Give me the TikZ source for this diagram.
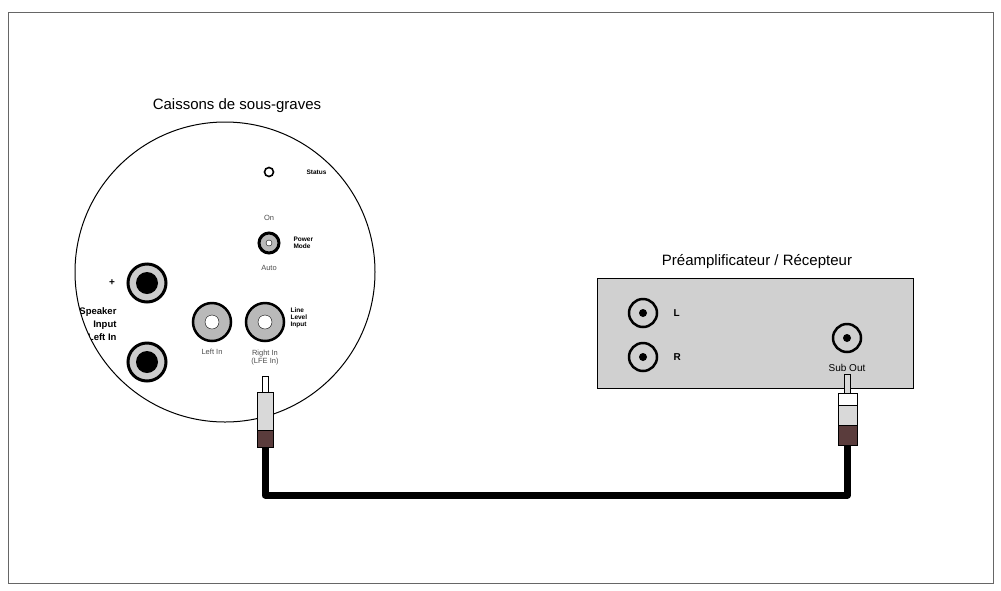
\documentclass[tikz,border=0pt]{standalone}
\usepackage{fontspec}
\setmainfont{Liberation Sans}
\usetikzlibrary{positioning}
\definecolor{panelgray}{RGB}{208,208,208}
\definecolor{jackgray}{RGB}{185,185,185}
\definecolor{bandred}{RGB}{90,60,60}
\begin{document}
\begin{tikzpicture}[x=1pt, y=-1pt,
    title/.style={font=\fontsize{15}{17}\selectfont},
    tiny/.style={font=\fontsize{6.5}{7}\selectfont\bfseries, align=left},
    small/.style={font=\fontsize{7.5}{8}\selectfont, text=black!70, align=center},
    rca/.style={circle, draw=black, line width=2.5pt, fill=jackgray, minimum size=38pt, inner sep=0pt},
    rcaout/.style={circle, draw=black, line width=2.5pt, fill=panelgray, minimum size=28pt, inner sep=0pt},
    speaker/.style={circle, draw=black, line width=3pt, fill=black!20, minimum size=38pt, inner sep=0pt},
    cable/.style={line width=7pt, black, line join=round}]
  \useasboundingbox (0,0) rectangle (1001,590);
  \draw[black!60, line width=1pt] (8,12) rectangle (993,583);
  % subwoofer panel
  \node[title] (subtitle) at (237,106) {Caissons de sous-graves};
  \draw[line width=1pt] (225,272) circle (150);
  \begin{scope}
    \clip (225,272) circle (150);
    \node[font=\fontsize{9.5}{13}\selectfont\bfseries, align=right, anchor=east] (spk) at (120,324) {Speaker\\Input\\Left In};
  \end{scope}
  \node[circle, draw, line width=1.6pt, minimum size=9pt, inner sep=0pt] (status) at (269,172) {};
  \node[tiny, anchor=west] (statuslbl) at (303,172) {Status};
  \node[small] (on) at (269,218) {On};
  \node[circle, draw, line width=3pt, fill=jackgray, minimum size=20pt, inner sep=0pt] (knob) at (269,243) {};
  \node[circle, draw, fill=white, minimum size=6pt, inner sep=0pt] at (knob) {};
  \node[tiny, anchor=west] (modelbl) at (290,243) {Power\\Mode};
  \node[small] (auto) at (269,268) {Auto};
  \node[font=\bfseries] (plus) at (112,283) {+};
  \node[speaker] (spkp) at (147,283) {};
  \node[circle, fill=black, minimum size=22pt, inner sep=0pt] at (spkp) {};
  \node[speaker] (spkm) at (147,362) {};
  \node[circle, fill=black, minimum size=22pt, inner sep=0pt] at (spkm) {};
  \node[rca] (leftin) at (212,322) {};
  \node[circle, draw, fill=white, minimum size=14pt, inner sep=0pt] at (leftin) {};
  \node[rca] (rightin) at (265,322) {};
  \node[circle, draw, fill=white, minimum size=14pt, inner sep=0pt] at (rightin) {};
  \node[tiny, anchor=west] (linelbl) at (287,318) {Line\\Level\\Input};
  \node[small] (leftlbl) at (212,352) {Left In};
  \node[small] (rightlbl) at (265,358) {Right In\\(LFE In)};
  % receiver
  \node[title] (rectitle) at (757,262) {Préamplificateur / Récepteur};
  \draw[fill=panelgray, line width=1pt] (597,278) rectangle (913,388);
  \node[rcaout] (ljack) at (643,313) {};
  \node[circle, fill=black, minimum size=8pt, inner sep=0pt] at (ljack) {};
  \node[rcaout] (rjack) at (643,357) {};
  \node[circle, fill=black, minimum size=8pt, inner sep=0pt] at (rjack) {};
  \node[font=\fontsize{10}{12}\selectfont\bfseries, anchor=west] (llbl) at (670,313) {L};
  \node[font=\fontsize{10}{12}\selectfont\bfseries, anchor=west] (rlbl) at (670,357) {R};
  \node[rcaout] (subout) at (847,338) {};
  \node[circle, fill=black, minimum size=8pt, inner sep=0pt] at (subout) {};
  \node[font=\fontsize{10}{12}\selectfont] (sublbl) at (847,368) {Sub Out};
  % plugs
  \draw[fill=white] (262,376) rectangle (268,392);
  \draw[fill=black!15] (257,392) rectangle (273,430);
  \draw[fill=bandred] (257,430) rectangle (273,447);
  \draw[fill=black!15] (844,374) rectangle (850,393);
  \draw[fill=white] (838,393) rectangle (857,405);
  \draw[fill=black!15] (838,405) rectangle (857,425);
  \draw[fill=bandred] (838,425) rectangle (857,445);
  \coordinate (plugA) at (265,447);
  \coordinate (plugB) at (847.5,445);
  \draw[cable] (plugA) -- (265,495) -- (847.5,495) -- (plugB);
\end{tikzpicture}
\end{document}
